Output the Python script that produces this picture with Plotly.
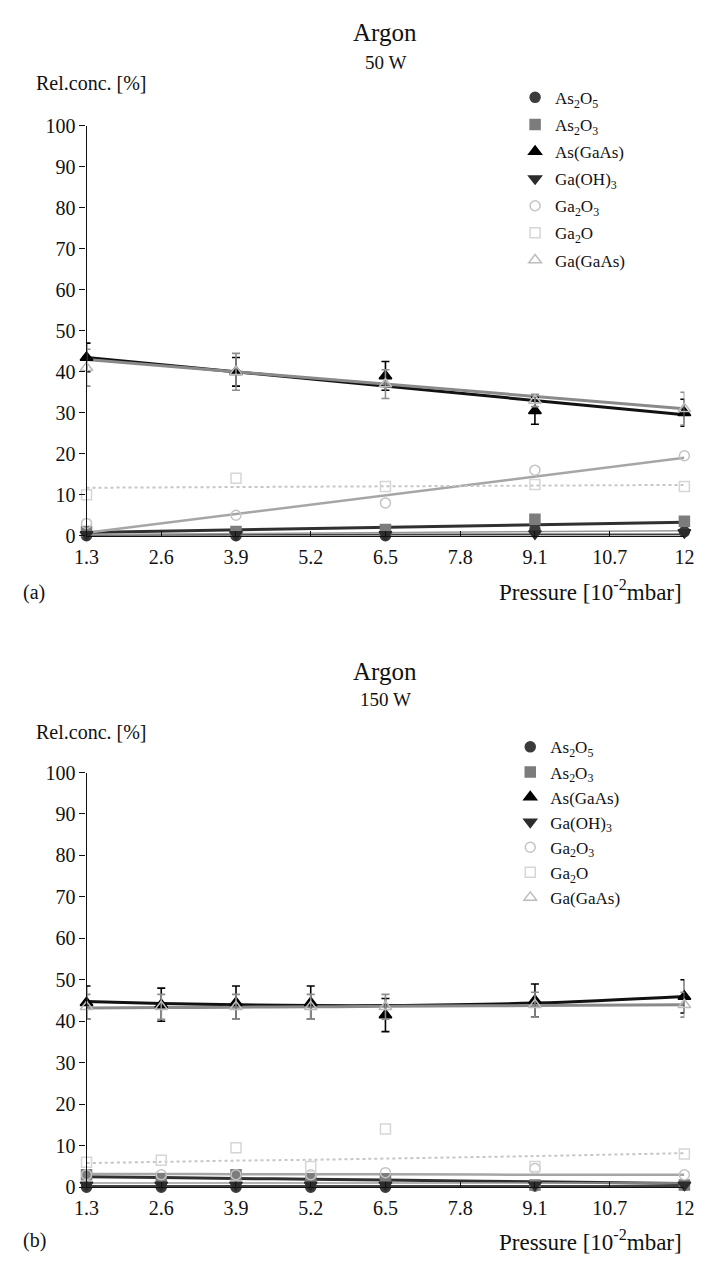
import plotly.graph_objects as go

W, H = 706, 1263
FONT = "Liberation Serif, Tinos, Times New Roman, DejaVu Serif, serif"

# Category axis shared by both panels (pressure in 10^-2 mbar)
x_ticks = ["1.3", "2.6", "3.9", "5.2", "6.5", "7.8", "9.1", "10.7", "12"]
y_ticks = [0, 10, 20, 30, 40, 50, 60, 70, 80, 90, 100]

names = ["As2O5", "As2O3", "As(GaAs)", "Ga(OH)3", "Ga2O3", "Ga2O", "Ga(GaAs)"]
legend_text = {
    "As2O5": "As<sub>2</sub>O<sub>5</sub>",
    "As2O3": "As<sub>2</sub>O<sub>3</sub>",
    "As(GaAs)": "As(GaAs)",
    "Ga(OH)3": "Ga(OH)<sub>3</sub>",
    "Ga2O3": "Ga<sub>2</sub>O<sub>3</sub>",
    "Ga2O": "Ga<sub>2</sub>O",
    "Ga(GaAs)": "Ga(GaAs)",
}

# ---- 50 W measurements ----
p50 = ["1.3", "3.9", "6.5", "9.1", "12"]
as2o5_50 = [0.0, 0.0, 0.0, 1.5, 1.0]
as2o3_50 = [1.0, 1.0, 1.5, 4.0, 3.5]
asgaas_50 = [43.5, 40.0, 39.0, 30.5, 30.0]
asgaas_err_50 = [3.5, 3.5, 3.5, 3.3, 3.3]
gaoh3_50 = [0.3, 0.3, 0.3, 0.5, 0.8]
ga2o3_50 = [3.0, 5.0, 8.0, 16.0, 19.5]
ga2o_50 = [10.0, 14.0, 12.0, 12.5, 12.0]
gagaas_50 = [41.0, 40.0, 37.0, 33.0, 31.0]
gagaas_err_50 = [4.5, 4.5, 3.5, 1.5, 4.0]

# linear fits (values at the first and last pressure)
fit_x_50 = ["1.3", "12"]
fit_50 = {
    "As2O5": [0.2, 0.3],
    "As2O3": [0.8, 3.3],
    "As(GaAs)": [43.5, 29.5],
    "Ga(OH)3": [0.3, 1.2],
    "Ga2O3": [0.7, 19.0],
    "Ga2O": [11.7, 12.4],
    "Ga(GaAs)": [43.0, 31.0],
}

# ---- 150 W measurements ----
p150 = ["1.3", "2.6", "3.9", "5.2", "6.5", "9.1", "12"]
as2o5_150 = [0.0, 0.0, 0.0, 0.0, 0.0, 0.3, 0.5]
as2o3_150 = [3.0, 2.0, 3.0, 2.0, 2.0, 0.5, 0.5]
asgaas_150 = [44.5, 44.0, 44.5, 44.5, 41.5, 45.0, 46.0]
asgaas_err_150 = [4.0, 4.0, 4.0, 4.0, 4.0, 4.0, 4.0]
gaoh3_150 = [0.5, 0.5, 0.5, 0.5, 0.5, 0.5, 0.5]
ga2o3_150 = [3.0, 3.0, 3.0, 3.0, 3.5, 4.5, 3.0]
ga2o_150 = [6.0, 6.5, 9.5, 5.0, 14.0, 5.0, 8.0]
gagaas_150 = [43.5, 43.5, 43.5, 43.5, 43.5, 44.0, 44.0]
gagaas_err_150 = [3.0, 3.0, 3.0, 3.0, 3.0, 3.0, 3.0]

# fitted curves evaluated at each measured pressure
fit_150 = {
    "As2O5": [0.3, 0.3, 0.3, 0.3, 0.3, 0.3, 0.3],
    "As2O3": [2.5, 2.3, 2.1, 1.9, 1.7, 1.3, 0.9],
    "As(GaAs)": [44.8, 44.3, 44.0, 43.8, 43.8, 44.4, 46.0],
    "Ga(OH)3": [1.0, 1.0, 1.0, 1.0, 1.0, 1.0, 1.0],
    "Ga2O3": [3.2, 3.2, 3.1, 3.1, 3.1, 3.0, 3.0],
    "Ga2O": [5.8, 6.1, 6.4, 6.6, 6.9, 7.5, 8.2],
    "Ga(GaAs)": [43.2, 43.3, 43.4, 43.5, 43.6, 43.8, 44.0],
}

points_50 = {
    "As2O5": (as2o5_50, None), "As2O3": (as2o3_50, None),
    "As(GaAs)": (asgaas_50, asgaas_err_50), "Ga(OH)3": (gaoh3_50, None),
    "Ga2O3": (ga2o3_50, None), "Ga2O": (ga2o_50, None),
    "Ga(GaAs)": (gagaas_50, gagaas_err_50),
}
points_150 = {
    "As2O5": (as2o5_150, None), "As2O3": (as2o3_150, None),
    "As(GaAs)": (asgaas_150, asgaas_err_150), "Ga(OH)3": (gaoh3_150, None),
    "Ga2O3": (ga2o3_150, None), "Ga2O": (ga2o_150, None),
    "Ga(GaAs)": (gagaas_150, gagaas_err_150),
}

# marker / line styling per species
marker_style = {
    "As2O5": dict(symbol="circle", color="#3c3c3c", size=10),
    "As2O3": dict(symbol="square", color="#7c7c7c", size=10),
    "As(GaAs)": dict(symbol="triangle-up", color="#000000", size=11),
    "Ga(OH)3": dict(symbol="triangle-down", color="#2c2c2c", size=11),
    "Ga2O3": dict(symbol="circle-open", color="#c4c4c4", size=10),
    "Ga2O": dict(symbol="square-open", color="#d6d6d6", size=10),
    "Ga(GaAs)": dict(symbol="triangle-up-open", color="#bcbcbc", size=11),
}
line_style = {
    "As2O5": dict(color="#404040", width=2),
    "As2O3": dict(color="#303030", width=3),
    "As(GaAs)": dict(color="#111111", width=3),
    "Ga(OH)3": dict(color="#9a9a9a", width=1.5),
    "Ga2O3": dict(color="#a6a6a6", width=2.5),
    "Ga2O": dict(color="#c6c6c6", width=2, dash="dot"),
    "Ga(GaAs)": dict(color="#8a8a8a", width=3),
}
err_color = {"As(GaAs)": "#000000", "Ga(GaAs)": "#8c8c8c"}


def py(pix):
    return 1 - pix / H


fig = go.Figure()

panels = [
    dict(xa="x", ya="y", legend="legend", pts=points_50, px=p50,
         fits=fit_50, fx=fit_x_50, shape="linear"),
    dict(xa="x2", ya="y2", legend="legend2", pts=points_150, px=p150,
         fits=fit_150, fx=p150, shape="spline"),
]

for pan in panels:
    # fitted lines first, so markers sit on top
    for n in names:
        fig.add_trace(go.Scatter(
            x=pan["fx"], y=pan["fits"][n], mode="lines",
            line=dict(shape=pan["shape"], **line_style[n]),
            xaxis=pan["xa"], yaxis=pan["ya"], showlegend=False,
            legend=pan["legend"], hoverinfo="skip", cliponaxis=False,
        ))
    for n in names:
        vals, err = pan["pts"][n]
        ms = marker_style[n]
        ey = None
        if err is not None:
            ey = dict(type="data", array=err, color=err_color[n],
                      thickness=1.6, width=4)
        fig.add_trace(go.Scatter(
            x=pan["px"], y=vals, mode="markers", name=legend_text[n],
            marker=dict(symbol=ms["symbol"], color=ms["color"], size=ms["size"],
                        line=dict(color=ms["color"], width=1.5)),
            error_y=ey, xaxis=pan["xa"], yaxis=pan["ya"],
            legend=pan["legend"], legendgroup=pan["legend"] + n,
            cliponaxis=False,
        ))

axis_font = dict(family=FONT, size=20, color="#111111")
xdom = [76 / W, 694 / W]

common_x = dict(
    type="category", categoryorder="array", categoryarray=x_ticks,
    range=[0, 8], showline=True, linecolor="#111111", linewidth=1.2,
    ticks="inside", ticklen=5, tickcolor="#111111", tickfont=axis_font,
    ticklabelstandoff=3,
    showgrid=False, zeroline=False, domain=xdom, fixedrange=True,
)
common_y = dict(
    range=[0, 100], tickvals=y_ticks, showline=True, linecolor="#111111",
    linewidth=1.2, ticks="outside", ticklen=6, tickcolor="#111111",
    tickfont=axis_font, showgrid=False, zeroline=False, fixedrange=True,
)

legend_common = dict(
    font=dict(family=FONT, size=17, color="#111111"),
    bgcolor="rgba(0,0,0,0)", borderwidth=0, xanchor="left", yanchor="top",
    itemclick=False, itemdoubleclick=False,
)

fig.update_layout(
    width=W, height=H, margin=dict(l=0, r=0, t=0, b=0),
    paper_bgcolor="white", plot_bgcolor="white",
    font=dict(family=FONT, color="#111111"),
    xaxis=dict(anchor="y", **common_x),
    yaxis=dict(anchor="x", domain=[py(534), py(117)], **common_y),
    xaxis2=dict(anchor="y2", **common_x),
    yaxis2=dict(anchor="x2", domain=[py(1197), py(775)], **common_y),
    legend=dict(x=519 / W, y=py(70), tracegroupgap=2, **legend_common),
    legend2=dict(x=514 / W, y=py(731), tracegroupgap=0, **legend_common),
)

# titles, axis labels and panel tags
texts = [
    ("Argon", 385, 22, 25, "center"),
    ("50 W", 385, 52, 19, "center"),
    ("Rel.conc. [%]", 22, 73, 20, "left"),
    ("Pressure [10<sup>-2</sup>mbar]", 694, 590, 23, "right"),
    ("(a)", 8, 592, 20, "left"),
    ("Argon", 385, 672, 25, "center"),
    ("150 W", 385, 701, 19, "center"),
    ("Rel.conc. [%]", 22, 734, 20, "left"),
    ("Pressure [10<sup>-2</sup>mbar]", 694, 1251, 23, "right"),
    ("(b)", 8, 1251, 20, "left"),
]
for t, x, y, s, anc in texts:
    fig.add_annotation(
        text=t, x=x / W, y=py(y), xref="paper", yref="paper",
        xanchor=anc, yanchor="middle", showarrow=False,
        font=dict(family=FONT, size=s, color="#111111"),
    )

fig.write_html("out.html")
